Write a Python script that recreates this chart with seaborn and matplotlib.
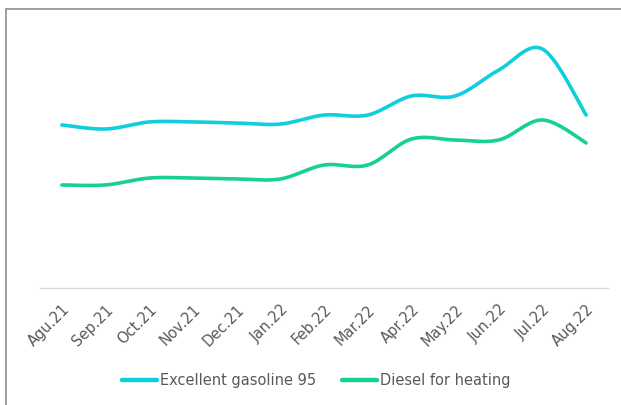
import numpy as np
import pandas as pd
import seaborn as sns
import matplotlib
matplotlib.use("Agg")
import matplotlib.pyplot as plt
from matplotlib.patches import Rectangle

months = ["Agu.21", "Sep.21", "Oct.21", "Nov.21", "Dec.21", "Jan.22", "Feb.22",
          "Mar.22", "Apr.22", "May.22", "Jun.22", "Jul.22", "Aug.22"]
gasoline = [10.87, 10.60, 11.07, 11.07, 11.00, 10.93, 11.53, 11.53, 12.80, 12.80, 14.53, 15.93, 11.53]
diesel = [6.87, 6.87, 7.33, 7.33, 7.27, 7.27, 8.20, 8.20, 9.93, 9.87, 9.87, 11.20, 9.67]
series_names = ["Excellent gasoline 95", "Diesel for heating"]
colors = ["#0FCFDC", "#17CF97"]

def smooth(xs, ys, n=30):
    xs = np.asarray(xs, float); ys = np.asarray(ys, float)
    px = np.concatenate([[xs[0]], xs, [xs[-1]]])
    py = np.concatenate([[ys[0]], ys, [ys[-1]]])
    ox, oy = [], []
    for i in range(1, len(px) - 2):
        p0 = np.array([px[i], py[i]]); p1 = np.array([px[i + 1], py[i + 1]])
        c1 = p0 + (np.array([px[i + 1], py[i + 1]]) - np.array([px[i - 1], py[i - 1]])) / 6
        c2 = p1 - (np.array([px[i + 2], py[i + 2]]) - np.array([px[i], py[i]])) / 6
        t = np.linspace(0, 1, n)[:, None]
        b = (1 - t) ** 3 * p0 + 3 * (1 - t) ** 2 * t * c1 + 3 * (1 - t) * t ** 2 * c2 + t ** 3 * p1
        if i > 1:
            b = b[1:]
        ox.extend(b[:, 0]); oy.extend(b[:, 1])
    return np.array(ox), np.array(oy)

sns.set_theme(style="white")
plt.rcParams['font.family'] = ['DejaVu Sans']

fig = plt.figure(figsize=(6.21, 4.05), dpi=100)
W, H = 621, 405
ax = fig.add_axes([40 / W, 1 - 288 / H, 568 / W, (288 - 20) / H])

xpos = np.arange(len(months))
frames = []
for name, vals in zip(series_names, [gasoline, diesel]):
    sx, sy = smooth(xpos, vals)
    frames.append(pd.DataFrame({"x": sx, "y": sy, "series": name, "order": np.arange(len(sx))}))
df = pd.concat(frames, ignore_index=True)

sns.lineplot(data=df, x="x", y="y", hue="series", palette=colors, sort=False,
             estimator=None, units="series", linewidth=2.6, ax=ax, legend=True,
             solid_capstyle="round")

ax.set_xlim(-0.5, len(months) - 0.5)
ax.set_ylim(0, (288 - 20) / 15)
ax.set_xticks(xpos)
ax.set_xticklabels(months, rotation=45, ha="right", rotation_mode="anchor",
                   fontsize=10.5, color="#595959")
ax.tick_params(axis="x", length=0, pad=10)
ax.set_yticks([])
ax.set_xlabel(""); ax.set_ylabel("")
for s in ["top", "right", "left"]:
    ax.spines[s].set_visible(False)
ax.spines["bottom"].set_color("#D9D9D9")
ax.spines["bottom"].set_linewidth(1.0)

handles, labels = ax.get_legend_handles_labels()
for h in handles:
    h.set_linewidth(3.2)
ax.legend(handles, labels, loc="center", bbox_to_anchor=(316 / W, 1 - 381 / H),
          bbox_transform=fig.transFigure, ncol=2, frameon=False, fontsize=10.5,
          handlelength=2.4, handletextpad=0.2, columnspacing=1.8, labelcolor="#595959")

fig.patches.append(Rectangle((6 / W, -0.1), 1.0, 1 - 8.5 / H + 0.1, transform=fig.transFigure,
                             fill=False, edgecolor="#8C8C8C", linewidth=1.2))

fig.savefig("out.png", dpi=100)
